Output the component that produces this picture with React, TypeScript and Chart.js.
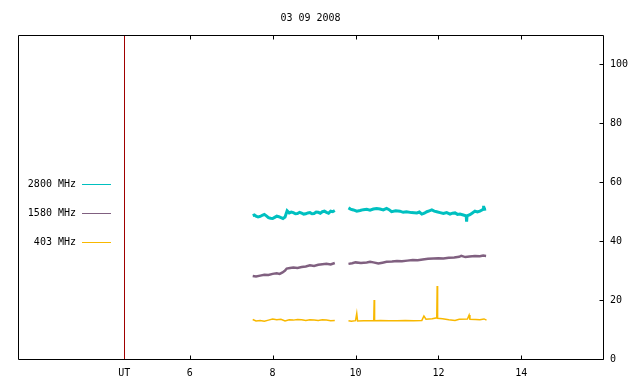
import React, { useEffect, useRef } from 'react';
import { Chart, registerables } from 'chart.js';

Chart.register(...registerables);

const TITLE = '03 09 2008';
const UT_HOUR = 4.42;
const X_MIN = 1.858;
const X_MAX = 15.97;
const Y_MIN = 0;
const Y_MAX = 110;
const X_TICKS = [6, 8, 10, 12, 14];
const Y_TICKS = [0, 20, 40, 60, 80, 100];
const SERIES_LABELS = ['2800 MHz', '1580 MHz', '403 MHz'];
const SERIES_COLORS = ['#00c0c0', '#806080', '#f8b800'];

// 2800 MHz
const t2800a = [7.52, 7.56, 7.6, 7.65, 7.7, 7.75, 7.8, 7.85, 7.9, 7.95, 8.0, 8.05, 8.1, 8.15, 8.2, 8.25, 8.3, 8.35, 8.4, 8.45, 8.5, 8.55, 8.6, 8.65, 8.7, 8.75, 8.8, 8.85, 8.9, 8.95, 9.0, 9.05, 9.1, 9.15, 9.2, 9.25, 9.3, 9.35, 9.4, 9.45, 9.5];
const v2800a = [48.7, 48.9, 48.5, 48.2, 48.4, 48.8, 49.1, 48.6, 48.0, 47.8, 47.7, 48.1, 48.5, 48.3, 48.0, 47.7, 48.2, 50.3, 49.6, 49.9, 49.7, 49.3, 49.4, 49.8, 49.5, 49.2, 49.3, 49.6, 49.7, 49.3, 49.4, 49.9, 49.8, 49.5, 50.0, 50.2, 49.8, 49.5, 50.2, 50.0, 50.4];
const t2800b = [9.83, 9.88, 9.95, 10.03, 10.11, 10.19, 10.27, 10.35, 10.43, 10.51, 10.59, 10.67, 10.75, 10.81, 10.87, 10.97, 11.07, 11.15, 11.23, 11.35, 11.48, 11.54, 11.6, 11.66, 11.72, 11.78, 11.84, 11.9, 11.96, 12.04, 12.12, 12.2, 12.28, 12.34, 12.4, 12.46, 12.52, 12.6, 12.67, 12.68, 12.69, 12.76, 12.82, 12.88, 12.94, 13.0, 13.04, 13.08, 13.09, 13.1, 13.15];
const v2800b = [51.3, 50.9, 50.6, 50.2, 50.4, 50.7, 50.8, 50.5, 50.9, 51.1, 50.9, 50.6, 51.1, 50.7, 50.0, 50.3, 50.2, 49.8, 50.0, 49.7, 49.6, 49.9, 49.2, 49.5, 50.0, 50.3, 50.6, 50.2, 50.0, 49.7, 49.4, 49.7, 49.2, 49.5, 49.6, 49.1, 49.2, 48.9, 48.6, 46.6, 48.6, 49.0, 49.6, 50.2, 49.9, 50.2, 50.5, 50.8, 52.0, 50.8, 50.9];

// 1580 MHz
const t1580a = [7.52, 7.6, 7.7, 7.8, 7.9, 8.0, 8.1, 8.17, 8.24, 8.3, 8.34, 8.42, 8.5, 8.6, 8.7, 8.8, 8.9, 9.0, 9.1, 9.2, 9.3, 9.4, 9.5];
const v1580a = [28.2, 28.0, 28.3, 28.6, 28.5, 28.9, 29.1, 28.9, 29.4, 30.0, 30.7, 30.9, 31.1, 30.9, 31.2, 31.4, 31.8, 31.6, 32.0, 32.2, 32.3, 32.1, 32.6];
const t1580b = [9.83, 9.92, 10.0, 10.13, 10.27, 10.35, 10.43, 10.55, 10.65, 10.75, 10.88, 11.0, 11.12, 11.25, 11.38, 11.5, 11.62, 11.75, 11.88, 12.0, 12.12, 12.25, 12.38, 12.5, 12.55, 12.65, 12.75, 12.88, 13.0, 13.08, 13.15];
const v1580b = [32.3, 32.5, 32.8, 32.6, 32.8, 33.0, 32.8, 32.4, 32.7, 33.0, 33.1, 33.3, 33.2, 33.4, 33.6, 33.5, 33.8, 34.0, 34.1, 34.2, 34.1, 34.4, 34.5, 34.7, 35.0, 34.6, 34.8, 35.0, 34.9, 35.1, 35.0];

// 403 MHz
const t403a = [7.52, 7.6, 7.7, 7.8, 7.9, 8.0, 8.1, 8.2, 8.3, 8.4, 8.5, 8.6, 8.7, 8.8, 8.9, 9.0, 9.1, 9.2, 9.3, 9.4, 9.5];
const v403a = [13.4, 12.9, 13.1, 12.8, 13.2, 13.6, 13.3, 13.5, 12.9, 13.3, 13.2, 13.4, 13.3, 13.1, 13.3, 13.2, 13.1, 13.3, 13.2, 13.0, 13.1];
const t403b = [9.83, 9.9, 10.0, 10.03, 10.05, 10.2, 10.3, 10.44, 10.45, 10.46, 10.6, 10.8, 11.0, 11.2, 11.4, 11.6, 11.65, 11.7, 11.85, 11.96, 11.97, 11.98, 12.1, 12.25, 12.4, 12.5, 12.7, 12.74, 12.76, 12.9, 13.0, 13.1, 13.16];
const v403b = [13.0, 12.8, 13.0, 15.5, 12.9, 13.0, 13.0, 13.0, 20.0, 13.0, 13.1, 13.0, 13.0, 13.1, 13.0, 13.1, 14.6, 13.5, 13.7, 14.0, 24.8, 13.8, 13.7, 13.3, 13.1, 13.5, 13.6, 14.9, 13.5, 13.4, 13.3, 13.6, 13.2];

const FONT = 'DejaVu Sans Mono';

function buildSeries(ta: number[], va: number[], tb: number[], vb: number[]) {
  const pts: { x: number; y: number | null }[] = [];
  ta.forEach((t, i) => pts.push({ x: t, y: va[i] }));
  pts.push({ x: (ta[ta.length - 1] + tb[0]) / 2, y: null });
  tb.forEach((t, i) => pts.push({ x: t, y: vb[i] }));
  return pts;
}

const framePlugin = {
  id: 'gnuFrame',
  beforeDatasetsDraw(chart: any) {
    const { ctx, chartArea: a, scales } = chart;
    const px = Math.round(scales.x.getPixelForValue(UT_HOUR)) + 0.5;
    ctx.save();
    ctx.strokeStyle = '#a00000';
    ctx.lineWidth = 1;
    ctx.beginPath();
    ctx.moveTo(px, a.top);
    ctx.lineTo(px, a.bottom);
    ctx.stroke();
    ctx.restore();
  },
  afterDraw(chart: any) {
    const { ctx, chartArea: a, scales } = chart;
    const L = Math.round(a.left) + 0.5;
    const T = Math.round(a.top) + 0.5;
    const R = Math.round(a.right) + 0.5;
    const B = Math.round(a.bottom) + 0.5;
    ctx.save();
    ctx.strokeStyle = '#000';
    ctx.lineWidth = 1;
    ctx.beginPath();
    ctx.moveTo(L, T);
    ctx.lineTo(R, T);
    ctx.lineTo(R, B);
    ctx.lineTo(L, B);
    ctx.closePath();
    for (const v of X_TICKS) {
      const x = Math.round(scales.x.getPixelForValue(v)) + 0.5;
      ctx.moveTo(x, B);
      ctx.lineTo(x, B - 4);
      ctx.moveTo(x, T);
      ctx.lineTo(x, T + 4);
    }
    for (const v of Y_TICKS) {
      const y = Math.round(scales.y.getPixelForValue(v)) + 0.5;
      ctx.moveTo(R, y);
      ctx.lineTo(R - 4, y);
    }
    ctx.stroke();

    ctx.fillStyle = '#000';
    ctx.font = `10px "${FONT}"`;
    ctx.textAlign = 'center';
    ctx.textBaseline = 'middle';
    ctx.fillText(TITLE, (a.left + a.right) / 2, 18);

    const legendY = [184, 213, 242];
    SERIES_LABELS.forEach((lab, i) => {
      const y = legendY[i];
      ctx.textAlign = 'right';
      ctx.fillStyle = '#000';
      ctx.fillText(lab, 76, y);
      ctx.strokeStyle = SERIES_COLORS[i];
      ctx.beginPath();
      ctx.moveTo(82, y + 0.5);
      ctx.lineTo(111, y + 0.5);
      ctx.stroke();
    });
    ctx.restore();
  },
};

export default function App() {
  const ref = useRef<HTMLCanvasElement | null>(null);
  useEffect(() => {
    if (!ref.current) return;
    const chart = new Chart(ref.current, {
      type: 'line',
      data: {
        datasets: [
          { label: SERIES_LABELS[0], data: buildSeries(t2800a, v2800a, t2800b, v2800b) as any, borderColor: SERIES_COLORS[0], borderWidth: 3 },
          { label: SERIES_LABELS[1], data: buildSeries(t1580a, v1580a, t1580b, v1580b) as any, borderColor: SERIES_COLORS[1], borderWidth: 2.5 },
          { label: SERIES_LABELS[2], data: buildSeries(t403a, v403a, t403b, v403b) as any, borderColor: SERIES_COLORS[2], borderWidth: 1.5 },
        ],
      },
      options: {
        responsive: false,
        animation: false,
        spanGaps: false,
        elements: { point: { radius: 0 }, line: { tension: 0, borderJoinStyle: 'miter' } },
        layout: { padding: { left: 18, top: 35, right: 0, bottom: 0 } },
        plugins: { legend: { display: false }, tooltip: { enabled: false }, title: { display: false } },
        scales: {
          x: {
            type: 'linear',
            position: 'bottom',
            min: X_MIN,
            max: X_MAX,
            grid: { display: false, drawTicks: false },
            border: { display: false },
            afterBuildTicks: (s: any) => {
              s.ticks = [UT_HOUR, ...X_TICKS].map((v) => ({ value: v }));
            },
            afterFit: (s: any) => {
              s.height = 25;
            },
            ticks: {
              autoSkip: false,
              maxRotation: 0,
              padding: 8,
              color: '#000',
              font: { family: FONT, size: 10 },
              callback: (v: any) => (v === UT_HOUR ? 'UT' : String(v)),
            },
          },
          y: {
            type: 'linear',
            position: 'right',
            min: Y_MIN,
            max: Y_MAX,
            grid: { display: false, drawTicks: false },
            border: { display: false },
            afterBuildTicks: (s: any) => {
              s.ticks = Y_TICKS.map((v) => ({ value: v }));
            },
            afterFit: (s: any) => {
              s.width = 37;
            },
            ticks: {
              autoSkip: false,
              padding: 7,
              color: '#000',
              font: { family: FONT, size: 10 },
            },
          },
        },
      },
      plugins: [framePlugin],
    });
    return () => chart.destroy();
  }, []);
  return (
    <div style={{ position: 'absolute', left: 0, top: 0, width: 640, height: 384, background: '#fff' }}>
      <canvas ref={ref} width={640} height={384} style={{ display: 'block' }} />
    </div>
  );
}
